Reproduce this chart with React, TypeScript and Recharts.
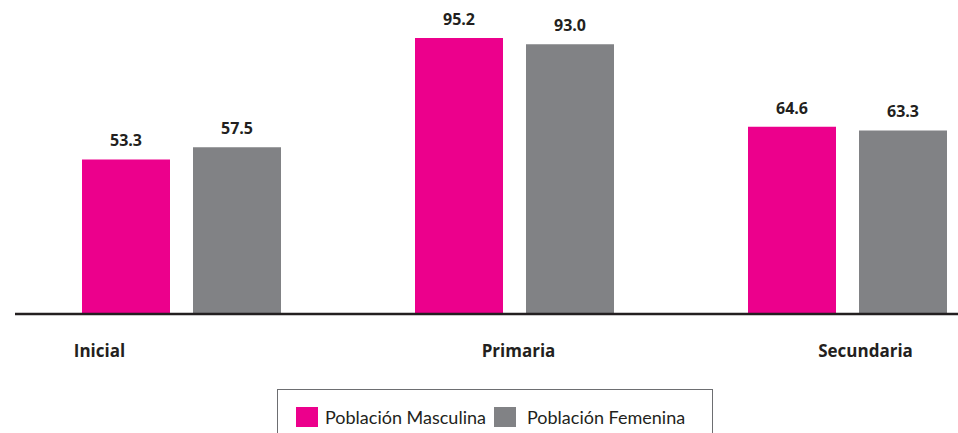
import { BarChart, Bar, XAxis, YAxis, LabelList } from "recharts";

const categories = ["Inicial", "Primaria", "Secundaria"];
const masculina = [53.3, 95.2, 64.6];
const femenina = [57.5, 93.0, 63.3];

const series = [
  { key: "masculina", name: "Población Masculina", color: "#EC008C" },
  { key: "femenina", name: "Población Femenina", color: "#818285" },
];

const data = categories.map((c, i) => ({
  name: c,
  masculina: masculina[i],
  femenina: femenina[i],
}));

// the category labels in the source are not centred on their groups
const tickShift = [-82, 4, 18];

function CategoryTick(props: any) {
  const { x, y, payload, index } = props;
  return (
    <text
      x={x + tickShift[index]}
      y={y}
      dy={43}
      textAnchor="middle"
      fill="#231F20"
      fontSize={17}
      fontWeight={700}
      fontFamily="Open Sans"
    >
      {payload.value}
    </text>
  );
}

export default function App() {
  return (
    <div
      style={{
        position: "absolute",
        left: 0,
        top: 0,
        width: 958,
        height: 433,
        overflow: "hidden",
        background: "#fff",
        fontFamily: "Open Sans",
      }}
    >
      <BarChart
        width={1014}
        height={433}
        data={data}
        margin={{ top: 24, right: 0, left: 15, bottom: 0 }}
        barSize={88}
        barGap={23}
      >
        <YAxis hide domain={[0, 100]} />
        <XAxis
          dataKey="name"
          height={119}
          tickLine={false}
          tickSize={0}
          tickMargin={0}
          axisLine={{ stroke: "#231F20", strokeWidth: 2.5 }}
          tick={<CategoryTick />}
          interval={0}
        />
        {series.map((s) => (
          <Bar key={s.key} dataKey={s.key} fill={s.color} isAnimationActive={false}>
            <LabelList
              dataKey={s.key}
              position="top"
              offset={13}
              fill="#231F20"
              fontSize={16}
              fontWeight={700}
              fontFamily="Open Sans"
              formatter={(v: any) => Number(v).toFixed(1)}
            />
          </Bar>
        ))}
      </BarChart>
      <div
        style={{
          position: "absolute",
          left: 277,
          top: 389,
          width: 436,
          height: 60,
          boxSizing: "border-box",
          border: "1.5px solid #6D6E71",
          display: "flex",
          alignItems: "flex-start",
          paddingLeft: 18,
          paddingTop: 17,
          fontFamily: "Lato",
          fontSize: 18,
          color: "#231F20",
        }}
      >
        {series.map((s, i) => (
          <div
            key={s.key}
            style={{ display: "flex", alignItems: "center", marginRight: i === 0 ? 8 : 0 }}
          >
            <span
              style={{
                display: "inline-block",
                width: 22,
                height: 20,
                background: s.color,
                marginRight: i === 0 ? 7 : 11,
              }}
            />
            <span style={{ lineHeight: "20px" }}>{s.name}</span>
          </div>
        ))}
      </div>
    </div>
  );
}
